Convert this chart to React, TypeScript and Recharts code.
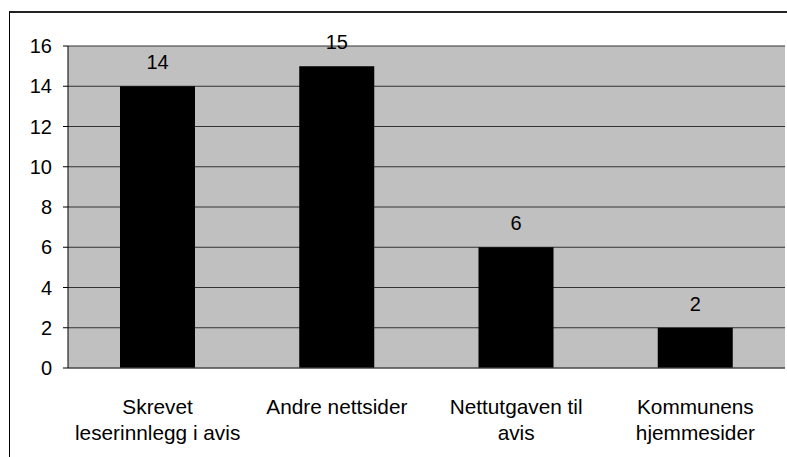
import { BarChart, Bar, XAxis, YAxis, CartesianGrid, LabelList } from "recharts";

const categories = [
  ["Skrevet", "leserinnlegg i avis"],
  ["Andre nettsider"],
  ["Nettutgaven til", "avis"],
  ["Kommunens", "hjemmesider"],
];
const counts = [14, 15, 6, 2];
const yTicks = [0, 2, 4, 6, 8, 10, 12, 14, 16];

const FONT = "'Liberation Sans', Arial, sans-serif";
const FS = 20;

const data = categories.map((lines, i) => ({
  name: lines.join(" "),
  lines,
  value: counts[i],
}));

function CategoryTick({ x, y, payload, index }: any) {
  const lines = data[index]?.lines ?? [payload.value];
  return (
    <text x={x} y={y} textAnchor="middle" fill="#000" fontFamily={FONT} fontSize={20.8}>
      {lines.map((l: string, i: number) => (
        <tspan key={i} x={x} dy={i === 0 ? 38 : 26}>
          {l}
        </tspan>
      ))}
    </text>
  );
}

export default function App() {
  return (
    <div style={{ position: "absolute", left: 0, top: 0, width: 787, height: 457, background: "#fff" }}>
      <div
        style={{
          position: "absolute",
          left: 9,
          top: 11,
          width: 800,
          height: 500,
          borderLeft: "1px solid #000",
          borderTop: "2px solid #222",
        }}
      />
      <BarChart
        width={787}
        height={457}
        data={data}
        margin={{ top: 46, right: 2, left: 0, bottom: 0 }}
        barSize={75}
        style={{ position: "absolute", left: 0, top: 0 }}
      >
        <CartesianGrid vertical={false} fill="#C0C0C0" stroke="#333" strokeWidth={1} fillOpacity={1} />
        <XAxis
          dataKey="name"
          height={89}
          interval={0}
          tickLine={false}
          axisLine={{ stroke: "#555" }}
          tick={<CategoryTick />}
        />
        <XAxis xAxisId="top" dataKey="name" orientation="top" height={0} tick={false} tickLine={false} axisLine={{ stroke: "#808080" }} />
        <YAxis
          width={68}
          domain={[0, 16]}
          ticks={yTicks}
          interval={0}
          tickSize={5}
          tickMargin={11}
          axisLine={{ stroke: "#000" }}
          tickLine={{ stroke: "#000" }}
          tick={{ fill: "#000", fontFamily: FONT, fontSize: FS }}
        />
        <YAxis yAxisId="right" orientation="right" width={0} tick={false} tickLine={false} axisLine={{ stroke: "#808080" }} />
        <Bar dataKey="value" fill="#000" isAnimationActive={false}>
          <LabelList dataKey="value" position="top" offset={17} fill="#000" fontFamily={FONT} fontSize={FS} />
        </Bar>
      </BarChart>
    </div>
  );
}
